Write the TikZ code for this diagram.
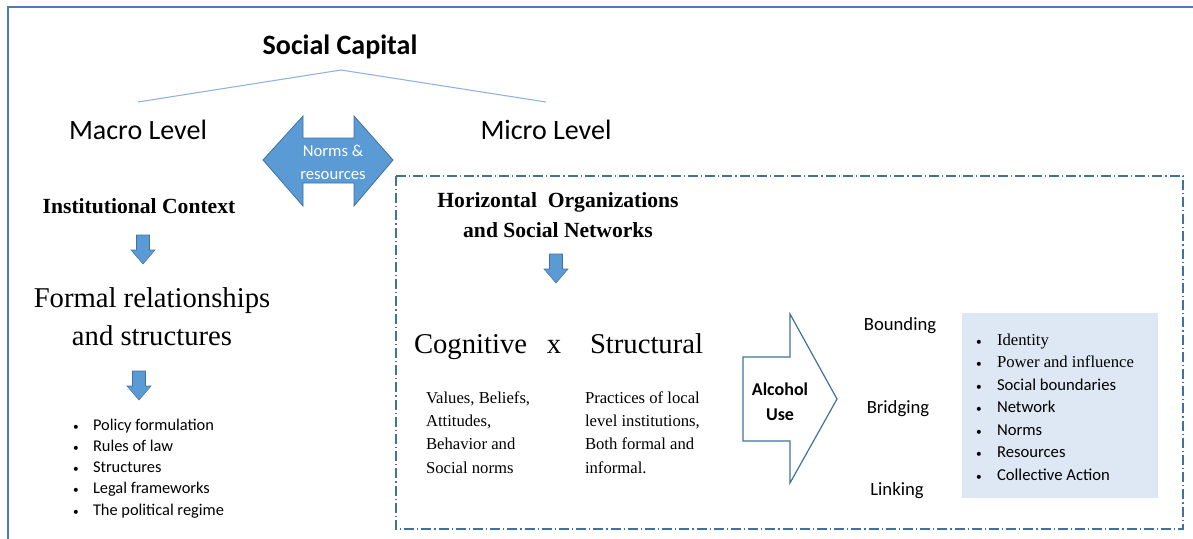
\documentclass[tikz,border=0pt]{standalone}
\usepackage{fontspec}
\setmainfont{Liberation Serif}
\newfontfamily\calfont{Carlito}
\definecolor{arrowfill}{HTML}{5B9BD5}
\definecolor{arrowline}{HTML}{41719C}
\definecolor{frameblue}{HTML}{4A7EBB}
\definecolor{linkblue}{HTML}{8DB3E2}
\definecolor{listbg}{HTML}{DEE8F4}
\begin{document}
\begin{tikzpicture}[x=0.75pt,y=-0.75pt,
  txt/.style={inner sep=0pt,outer sep=0pt,anchor=base},
  calbig/.style={txt,font=\calfont\fontsize{21}{25}\selectfont},
  serifbig/.style={txt,font=\fontsize{21.5}{28}\selectfont},
  serifhead/.style={txt,font=\bfseries\fontsize{16.2}{22}\selectfont},
  serifsmall/.style={txt,font=\fontsize{12.5}{17.5}\selectfont,anchor=base west},
  calsmall/.style={txt,font=\calfont\fontsize{12.3}{16}\selectfont},
  dot/.style={txt,font=\calfont\fontsize{8.5}{10}\selectfont},
  tie/.style={draw=linkblue,line width=0.8pt},
  downarrow/.pic={\fill[arrowfill,draw=arrowline,line width=0.4pt]
     (-6.5,-14)--(6.5,-14)--(6.5,1)--(12,1)--(0,15)--(-12,1)--(-6.5,1)--cycle;},
]
\useasboundingbox (0,0) rectangle (1193,539);
\clip (0,0) rectangle (1193,539);

% outer frame (runs off the right and bottom edges)
\draw[frameblue,line width=1.3pt] (8,560) -- (8,7) -- (1220,7);

% title and the two levels
\node[txt,font=\calfont\bfseries\fontsize{21}{25}\selectfont] (sc) at (340,55) {Social Capital};
\coordinate (apex) at (341,70);
\coordinate (macroTop) at (138,102);
\coordinate (microTop) at (546,102);
\draw[tie] (macroTop) -- (apex) -- (microTop);
\node[calbig] (macro) at (138,139) {Macro Level};
\node[calbig] (micro) at (546,139) {Micro Level};

% double arrow between the levels
\fill[arrowfill,draw=arrowline,line width=0.6pt]
  (263,160) -- (303,116) -- (303,138) -- (354,138) -- (354,116) -- (393,160)
  -- (354,206) -- (354,183) -- (303,183) -- (303,206) -- cycle;
\node[txt,text=white,font=\calfont\fontsize{12.5}{16}\selectfont] (nr1) at (333,156) {Norms \&};
\node[txt,text=white,font=\calfont\fontsize{12.5}{16}\selectfont] (nr2) at (333,179) {resources};

% macro column
\node[serifhead] (inst) at (139,213) {Institutional Context};
\pic at (143,249) {downarrow};
\node[serifbig] (formal1) at (152,307) {Formal relationships};
\node[serifbig] (formal2) at (152,345) {and structures};
\pic at (139,385) {downarrow};
\foreach \t [count=\i] in {Policy formulation,Rules of law,Structures,Legal frameworks,The political regime}{
  \node[calsmall,anchor=base west] (mb\i) at (93,{430+21.25*(\i-1)}) {\t};
  \node[dot] at (76,{430+21.25*(\i-1)}) {\textbullet};
}

% micro panel
\draw[arrowline,line width=0.8pt,dash pattern=on 7.5pt off 2.3pt on 0.8pt off 2.3pt]
  (396,176) rectangle (1183,529);
\node[serifhead] (horiz1) at (558,207) {Horizontal\ \ Organizations};
\node[serifhead] (horiz2) at (558,237) {and Social Networks};
\pic at (556,268) {downarrow};

\node[serifbig,anchor=base west] (cog) at (414,353) {Cognitive};
\node[serifbig] (times) at (554,353) {x};
\node[serifbig,anchor=base west] (struct) at (590,353) {Structural};
\foreach \t [count=\i] in {{Values, Beliefs,},{Attitudes,},Behavior and,Social norms}{
  \node[serifsmall] (cog\i) at (426,{403+23.4*(\i-1)}) {\t};
}
\foreach \t [count=\i] in {Practices of local,{level institutions,},Both formal and,informal.}{
  \node[serifsmall] (st\i) at (585,{403+23.4*(\i-1)}) {\t};
}

% alcohol use arrow
\draw[arrowline,fill=white,line width=0.9pt]
  (743,357) -- (790,357) -- (790,314) -- (837,399) -- (790,483) -- (790,441) -- (743,441) -- cycle;
\node[txt,font=\calfont\bfseries\fontsize{13.5}{18}\selectfont] (alc1) at (780,395) {Alcohol};
\node[txt,font=\calfont\bfseries\fontsize{13.5}{18}\selectfont] (alc2) at (780,420) {Use};

\node[txt,font=\calfont\fontsize{14}{18}\selectfont] (bound) at (900,330) {Bounding};
\node[txt,font=\calfont\fontsize{14}{18}\selectfont] (bridge) at (898,413) {Bridging};
\node[txt,font=\calfont\fontsize{14}{18}\selectfont] (link) at (897,495) {Linking};

% dimensions list
\fill[listbg] (962,313) rectangle (1158,498);
\foreach \t/\f [count=\i] in {Identity/\rmfamily,Power and influence/\rmfamily,Social boundaries/\calfont,Network/\calfont,Norms/\calfont,Resources/\calfont,Collective Action/\calfont}{
  \node[txt,anchor=base west,font=\f\fontsize{12.5}{16}\selectfont] (rl\i) at (997,{345+22.5*(\i-1)}) {\t};
  \node[dot] at (979,{345+22.5*(\i-1)}) {\textbullet};
}
\end{tikzpicture}
\end{document}
